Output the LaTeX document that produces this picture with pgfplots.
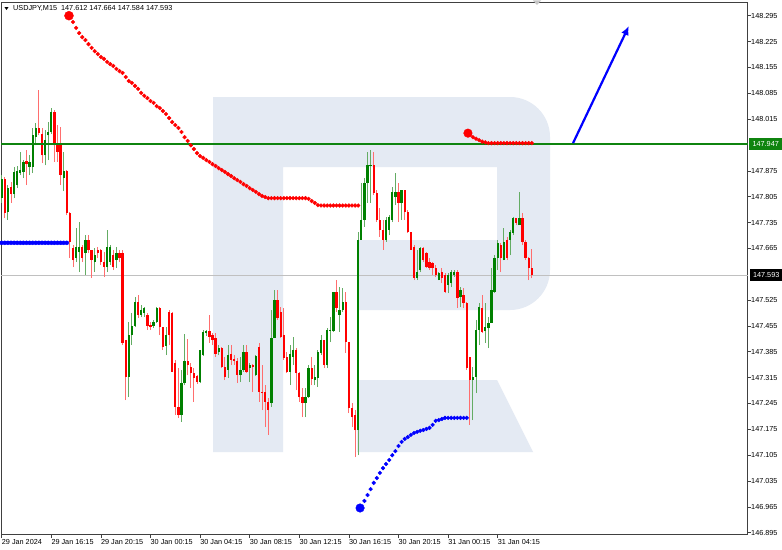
\documentclass[border=0pt]{standalone}
\usepackage{pgfplots}
\pgfplotsset{compat=1.18}
\usepackage{pgfplotstable}
\usepackage{fontspec}
\setmainfont{Liberation Sans}
\usetikzlibrary{arrows.meta}
\definecolor{cgreen}{RGB}{0,128,0}
\definecolor{cred}{RGB}{255,0,0}
\definecolor{wgreen}{RGB}{100,172,100}
\definecolor{wred}{RGB}{255,110,110}
\definecolor{wm}{RGB}{228,234,243}
\definecolor{lvl}{RGB}{15,132,15}
\definecolor{dotblue}{RGB}{0,0,255}
\definecolor{curline}{RGB}{192,192,192}

\pgfplotstableread{
i O H L C
0 147.801 147.863 147.788 147.853
2 147.764 147.836 147.742 147.828
4 147.812 147.885 147.801 147.872
5 147.836 147.888 147.828 147.874
6 147.869 147.926 147.863 147.877
7 147.872 147.904 147.855 147.899
9 147.885 147.917 147.863 147.899
10 147.885 147.991 147.869 147.971
11 147.966 148.005 147.944 147.991
14 147.917 147.985 147.890 147.958
15 147.971 148.008 147.904 147.980
16 147.980 148.045 147.974 148.034
20 147.855 147.926 147.820 147.874
24 147.639 147.720 147.628 147.669
25 147.655 147.737 147.601 147.669
27 147.652 147.701 147.593 147.688
30 147.628 147.666 147.601 147.647
34 147.614 147.715 147.601 147.669
35 147.628 147.674 147.620 147.669
37 147.633 147.669 147.612 147.652
41 147.317 147.466 147.262 147.430
42 147.430 147.490 147.403 147.455
43 147.455 147.533 147.452 147.520
45 147.485 147.512 147.479 147.498
46 147.490 147.506 147.479 147.504
49 147.455 147.471 147.449 147.466
50 147.466 147.506 147.463 147.504
53 147.401 147.452 147.376 147.430
58 147.214 147.336 147.195 147.300
59 147.300 147.433 147.295 147.360
64 147.303 147.390 147.300 147.390
65 147.376 147.444 147.374 147.439
66 147.436 147.444 147.428 147.441
70 147.384 147.403 147.376 147.395
73 147.336 147.403 147.314 147.376
77 147.322 147.371 147.303 147.336
78 147.336 147.403 147.331 147.384
80 147.341 147.355 147.303 147.349
82 147.322 147.376 147.319 147.374
87 147.246 147.498 147.235 147.422
88 147.422 147.552 147.422 147.525
93 147.331 147.403 147.295 147.379
94 147.371 147.425 147.349 147.390
98 147.246 147.287 147.208 147.262
99 147.262 147.349 147.260 147.341
101 147.308 147.349 147.295 147.317
102 147.314 147.390 147.290 147.384
103 147.382 147.430 147.376 147.417
105 147.349 147.449 147.341 147.444
106 147.441 147.479 147.411 147.444
107 147.441 147.547 147.439 147.547
109 147.485 147.560 147.439 147.498
110 147.498 147.558 147.493 147.520
115 147.173 147.709 147.105 147.688
116 147.688 147.842 147.688 147.742
117 147.742 147.855 147.723 147.842
118 147.842 147.926 147.788 147.890
119 147.888 147.931 147.788 147.890
124 147.688 147.750 147.683 147.742
125 147.715 147.755 147.701 147.750
126 147.742 147.831 147.736 147.818
127 147.804 147.869 147.782 147.818
129 147.788 147.823 147.742 147.823
134 147.585 147.661 147.579 147.601
135 147.606 147.669 147.601 147.666
141 147.579 147.601 147.579 147.598
144 147.566 147.598 147.544 147.593
145 147.571 147.606 147.560 147.601
146 147.593 147.606 147.587 147.601
148 147.533 147.560 147.506 147.552
152 147.308 147.344 147.200 147.317
153 147.317 147.471 147.273 147.444
154 147.444 147.517 147.403 147.506
156 147.441 147.517 147.409 147.452
157 147.449 147.479 147.395 147.463
158 147.463 147.612 147.463 147.552
159 147.547 147.647 147.544 147.639
160 147.639 147.688 147.606 147.680
162 147.633 147.720 147.633 147.683
164 147.688 147.715 147.647 147.709
165 147.707 147.750 147.701 147.747
167 147.728 147.818 147.728 147.747
}\upc

\pgfplotstableread{
i O H L C
1 147.853 147.858 147.747 147.761
3 147.831 147.845 147.788 147.812
8 147.901 147.931 147.836 147.893
12 147.991 148.094 147.971 147.977
13 147.974 147.991 147.896 147.917
17 148.034 148.040 147.899 147.944
18 147.950 147.999 147.899 147.926
19 147.944 147.994 147.836 147.863
21 147.874 147.877 147.755 147.761
22 147.761 147.764 147.639 147.683
23 147.666 147.674 147.614 147.633
26 147.669 147.674 147.628 147.639
28 147.688 147.701 147.652 147.661
29 147.661 147.661 147.585 147.633
31 147.661 147.669 147.639 147.652
32 147.661 147.663 147.620 147.628
33 147.628 147.655 147.587 147.614
36 147.647 147.661 147.606 147.614
38 147.652 147.661 147.628 147.639
39 147.652 147.661 147.403 147.409
40 147.417 147.417 147.254 147.317
44 147.520 147.539 147.477 147.485
47 147.485 147.490 147.444 147.455
48 147.458 147.466 147.444 147.452
51 147.504 147.506 147.430 147.452
52 147.452 147.452 147.390 147.398
54 147.493 147.498 147.403 147.430
55 147.490 147.493 147.331 147.331
56 147.355 147.363 147.214 147.235
57 147.235 147.341 147.206 147.214
60 147.360 147.420 147.322 147.349
61 147.344 147.355 147.287 147.327
62 147.327 147.341 147.249 147.314
63 147.319 147.322 147.298 147.303
67 147.441 147.485 147.409 147.425
68 147.430 147.436 147.403 147.417
69 147.422 147.436 147.371 147.379
71 147.395 147.398 147.341 147.344
72 147.344 147.371 147.308 147.317
74 147.379 147.403 147.349 147.363
75 147.366 147.376 147.349 147.360
76 147.360 147.368 147.300 147.322
79 147.384 147.403 147.327 147.331
81 147.349 147.352 147.276 147.344
83 147.398 147.409 147.249 147.276
84 147.276 147.349 147.227 147.273
85 147.276 147.295 147.181 147.249
86 147.249 147.260 147.160 147.227
89 147.525 147.552 147.471 147.476
90 147.493 147.506 147.422 147.425
91 147.430 147.504 147.363 147.368
92 147.371 147.384 147.327 147.331
95 147.390 147.395 147.281 147.327
96 147.327 147.331 147.249 147.262
97 147.262 147.287 147.208 147.246
100 147.341 147.371 147.295 147.311
104 147.417 147.417 147.341 147.349
108 147.547 147.579 147.493 147.504
111 147.520 147.547 147.382 147.411
112 147.411 147.411 147.219 147.233
113 147.233 147.246 147.181 147.208
114 147.214 147.227 147.100 147.173
120 147.890 147.926 147.809 147.815
121 147.815 147.823 147.736 147.742
122 147.742 147.774 147.696 147.715
123 147.715 147.742 147.661 147.688
128 147.818 147.842 147.736 147.788
130 147.823 147.823 147.742 147.764
131 147.764 147.769 147.707 147.709
132 147.709 147.709 147.661 147.661
133 147.669 147.674 147.579 147.585
136 147.666 147.669 147.628 147.633
137 147.652 147.655 147.612 147.614
138 147.628 147.639 147.606 147.612
139 147.625 147.628 147.593 147.612
140 147.612 147.620 147.587 147.593
142 147.601 147.612 147.571 147.585
143 147.593 147.598 147.544 147.547
147 147.601 147.606 147.504 147.531
149 147.539 147.558 147.504 147.517
150 147.517 147.520 147.336 147.341
151 147.371 147.371 147.187 147.308
155 147.504 147.539 147.436 147.439
161 147.674 147.680 147.601 147.639
163 147.688 147.696 147.633 147.639
166 147.747 147.747 147.728 147.734
168 147.747 147.761 147.674 147.683
169 147.683 147.688 147.633 147.639
170 147.639 147.641 147.579 147.612
171 147.612 147.664 147.584 147.593
}\dnc

\pgfplotstableread{
i y
23 148.278
24 148.262
25 148.248
26 148.237
27 148.229
28 148.218
29 148.208
30 148.199
31 148.191
32 148.183
33 148.178
34 148.170
35 148.164
36 148.159
37 148.151
38 148.145
39 148.140
40 148.129
41 148.118
42 148.113
43 148.105
44 148.097
45 148.086
46 148.078
47 148.072
48 148.064
49 148.059
50 148.050
51 148.045
52 148.037
53 148.029
54 148.018
55 148.007
56 147.999
57 147.991
58 147.980
59 147.966
60 147.956
61 147.944
62 147.934
63 147.923
64 147.915
65 147.910
66 147.904
67 147.899
68 147.893
69 147.888
70 147.882
71 147.877
72 147.872
73 147.866
74 147.861
75 147.855
76 147.850
77 147.845
78 147.839
79 147.834
80 147.828
81 147.823
82 147.818
83 147.812
84 147.807
85 147.804
86 147.801
87 147.801
88 147.801
89 147.801
90 147.801
91 147.801
92 147.801
93 147.801
94 147.801
95 147.801
96 147.801
97 147.801
98 147.801
99 147.799
100 147.793
101 147.788
102 147.782
103 147.781
104 147.781
105 147.781
106 147.781
107 147.781
108 147.781
109 147.781
110 147.781
111 147.781
112 147.781
113 147.781
114 147.781
115 147.781
}\reddots

\pgfplotstableread{
i y
117 146.981
118 146.997
119 147.013
120 147.030
121 147.043
122 147.057
123 147.070
124 147.081
125 147.092
126 147.105
127 147.116
128 147.130
129 147.141
130 147.149
131 147.154
132 147.160
133 147.165
134 147.168
135 147.171
136 147.173
137 147.176
138 147.179
139 147.187
140 147.198
141 147.200
142 147.203
143 147.206
144 147.206
145 147.206
146 147.206
147 147.206
148 147.206
149 147.206
150 147.206
}\bluedots

\begin{document}
\begin{tikzpicture}
\path[use as bounding box, fill=white] (0,0) rectangle (782bp,-550bp);
% watermark logo
\begin{scope}[x=1bp,y=1bp]
\fill[wm] (213,-97) -- (510,-97) arc[start angle=90,end angle=0,radius=40] -- (550,-270) arc[start angle=0,end angle=-90,radius=40] -- (357,-310) -- (357,-240) -- (497,-240) -- (497,-167) -- (283,-167) -- (283,-452) -- (213,-452) -- cycle;
\fill[wm] (357,-380) -- (497,-380) -- (533,-452) -- (357,-452) -- cycle;
\end{scope}
\begin{axis}[
  at={(1bp,-2.7bp)}, anchor=north west,
  scale only axis, width=746.5bp, height=531.8bp,
  xmin=-0.226, xmax=240.58,
  ymin=146.8902, ymax=148.3302,
  axis line style={draw=black!75, line width=0.8bp},
  xtick pos=bottom, ytick pos=right, yticklabel pos=right,
  tick align=outside, major tick length=3.5bp,
  tick style={black!75, line width=0.6bp},
  xtick={0,16,32,48,64,80,96,112,128,144,160},
  xticklabels={29 Jan 2024, 29 Jan 16:15, 29 Jan 20:15, 30 Jan 00:15, 30 Jan 04:15, 30 Jan 08:15, 30 Jan 12:15, 30 Jan 16:15, 30 Jan 20:15, 31 Jan 00:15, 31 Jan 04:15},
  ytick={146.895,146.965,147.035,147.105,147.175,147.245,147.315,147.385,147.455,147.525,147.665,147.735,147.805,147.875,148.015,148.085,148.155,148.225,148.295},
  scaled y ticks=false,
  ticklabel style={font=\fontsize{7.3}{8.6}\selectfont, inner sep=0pt},
  xticklabel style={anchor=north west, yshift=-1bp},
  yticklabel style={anchor=west, /pgf/number format/fixed, /pgf/number format/fixed zerofill, /pgf/number format/precision=3, /pgf/number format/assume math mode=true},
  clip=false,
]
% current price line
\addplot[curline, line width=0.8bp, forget plot] coordinates {(-0.226,147.593) (240.58,147.593)};
% wicks
\addplot[draw=none, mark=none, forget plot, error bars/.cd, y dir=plus, y explicit, error mark=none, error bar style={draw=wgreen, line width=1bp}] table[x=i, y=L, y error plus expr={\thisrow{H}-\thisrow{L}}] {\upc};
\addplot[draw=none, mark=none, forget plot, error bars/.cd, y dir=plus, y explicit, error mark=none, error bar style={draw=wred, line width=1bp}] table[x=i, y=L, y error plus expr={\thisrow{H}-\thisrow{L}}] {\dnc};
% bodies
\addplot[draw=none, mark=none, forget plot, error bars/.cd, y dir=plus, y explicit, error mark=none, error bar style={draw=cgreen, line width=2.3bp}] table[x=i, y=O, y error plus expr={max(\thisrow{C}-\thisrow{O},0.0015)}] {\upc};
\addplot[draw=none, mark=none, forget plot, error bars/.cd, y dir=plus, y explicit, error mark=none, error bar style={draw=cred, line width=2.3bp}] table[x=i, y=C, y error plus expr={max(\thisrow{O}-\thisrow{C},0.0015)}] {\dnc};
% level line
\addplot[lvl, line width=1.7bp, forget plot] coordinates {(-0.226,147.947) (240.58,147.947)};
% blue dots left
\addplot[only marks, mark=*, mark size=2bp, dotblue, forget plot] coordinates {(0,147.680) (1,147.680) (2,147.680) (3,147.680) (4,147.680) (5,147.680) (6,147.680) (7,147.680) (8,147.680) (9,147.680) (10,147.680) (11,147.680) (12,147.680) (13,147.680) (14,147.680) (15,147.680) (16,147.680) (17,147.680) (18,147.680) (19,147.680) (20,147.680) (21,147.680)};
% red dotted curve
\addplot[only marks, mark=*, mark size=1.9bp, cred, forget plot] table[x=i, y=y] {\reddots};
\addplot[only marks, mark=*, mark size=4.5bp, cred, forget plot] coordinates {(21.7,148.295)};
% blue curve
\addplot[only marks, mark=*, mark size=1.9bp, dotblue, forget plot] table[x=i, y=y] {\bluedots};
\addplot[only marks, mark=*, mark size=4.3bp, dotblue, forget plot] coordinates {(115.6,146.962)};
% red top right
\addplot[only marks, mark=*, mark size=1.9bp, cred, forget plot] coordinates {(151,147.972) (152,147.966) (153,147.962) (154,147.958) (155,147.954) (156,147.952) (157,147.950) (158,147.950) (159,147.950) (160,147.950) (161,147.950) (162,147.950) (163,147.950) (164,147.950) (165,147.950) (166,147.950) (167,147.950) (168,147.950) (169,147.950) (170,147.950) (171,147.950)};
\addplot[only marks, mark=*, mark size=4.3bp, cred, forget plot] coordinates {(150.4,147.977)};
% arrow
\addplot[dotblue, line width=2.2bp, -{Latex[length=9bp,width=8bp]}, forget plot] coordinates {(184.3,147.950) (202.3,148.267)};
\end{axis}
\begin{scope}[x=1bp,y=1bp]
\fill[black] (4.5,-7) -- (8.5,-7) -- (6.5,-10) -- cycle;
\node[anchor=west, inner sep=0pt, font=\fontsize{7.3}{8.6}\selectfont] at (13,-8.3) {USDJPY,M15\ \ 147.612 147.664 147.584 147.593};
\fill[gray!45] (533,-0.5) -- (541,-0.5) -- (537,-5) -- cycle;
\node[fill=lvl, text=white, minimum width=33bp, minimum height=12bp, inner sep=0pt, anchor=west, font=\fontsize{7.3}{8.6}\selectfont] at (749,-143.5) {147.947};
\node[fill=black, text=white, minimum width=32bp, minimum height=12bp, inner sep=0pt, anchor=west, font=\fontsize{7.3}{8.6}\selectfont] at (750,-275) {147.593};
\end{scope}
\end{tikzpicture}
\end{document}
